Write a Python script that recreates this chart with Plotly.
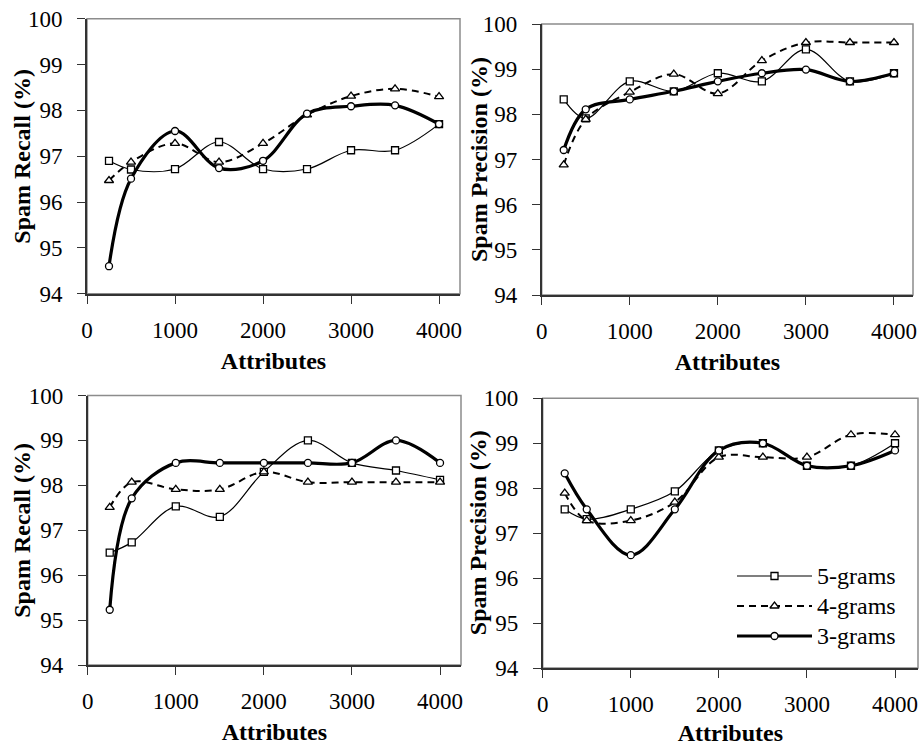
import plotly.graph_objects as go

# ---------------- data ----------------
attributes = [250, 500, 1000, 1500, 2000, 2500, 3000, 3500, 4000]

# top-left: Spam Recall
recall_a_5 = [96.90, 96.71, 96.72, 97.31, 96.72, 96.72, 97.13, 97.13, 97.70]
recall_a_4 = [96.47, 96.87, 97.28, 96.87, 97.28, 97.90, 98.31, 98.47, 98.30]
recall_a_3 = [94.60, 96.51, 97.55, 96.74, 96.90, 97.93, 98.09, 98.11, 97.70]

# top-right: Spam Precision
prec_a_5 = [98.33, 97.91, 98.73, 98.51, 98.91, 98.73, 99.44, 98.73, 98.91]
prec_a_4 = [96.88, 97.89, 98.49, 98.89, 98.46, 99.19, 99.59, 99.59, 99.59]
prec_a_3 = [97.21, 98.11, 98.33, 98.51, 98.73, 98.91, 98.99, 98.73, 98.91]

# bottom-left: Spam Recall
recall_b_5 = [96.50, 96.73, 97.53, 97.30, 98.30, 99.00, 98.50, 98.33, 98.12]
recall_b_4 = [97.51, 98.07, 97.91, 97.91, 98.30, 98.07, 98.07, 98.07, 98.07]
recall_b_3 = [95.23, 97.71, 98.50, 98.50, 98.50, 98.50, 98.50, 99.00, 98.50]

# bottom-right: Spam Precision
prec_b_5 = [97.53, 97.31, 97.53, 97.93, 98.84, 99.00, 98.50, 98.50, 99.00]
prec_b_4 = [97.89, 97.28, 97.28, 97.69, 98.69, 98.69, 98.69, 99.19, 99.19]
prec_b_3 = [98.33, 97.53, 96.51, 97.53, 98.84, 99.00, 98.50, 98.50, 98.84]

series_names = ["5-grams", "4-grams", "3-grams"]
y_titles = ["Spam Recall (%)", "Spam Precision (%)", "Spam Recall (%)", "Spam Precision (%)"]
x_title = "Attributes"
x_ticks = [0, 1000, 2000, 3000, 4000]
y_ticks = [94, 95, 96, 97, 98, 99, 100]

panels = [
    (recall_a_5, recall_a_4, recall_a_3),
    (prec_a_5, prec_a_4, prec_a_3),
    (recall_b_5, recall_b_4, recall_b_3),
    (prec_b_5, prec_b_4, prec_b_3),
]

# ---------------- layout / style ----------------
W, H = 921, 746
# plot-area pixel boxes: left, right, top, bottom
boxes = [
    (87.0, 460.0, 18.7, 293.7),
    (541.7, 913.0, 24.0, 295.0),
    (87.7, 461.0, 395.5, 665.0),
    (542.7, 918.0, 398.3, 668.0),
]
x_max = [4238, 4216, 4238, 4261]
# horizontal pixel position of each rotated y-axis title centre
y_title_px = [22.5, 478.5, 22.5, 478.0]

FONT = "Liberation Serif"
TICK_SIZE = 23
TITLE_SIZE = 24
styles = [
    dict(line=dict(color="black", width=1.2, shape="spline", smoothing=1.0),
         symbol="square", size=7),
    dict(line=dict(color="black", width=2.0, shape="spline", smoothing=1.0, dash="7px,5px"),
         symbol="triangle-up", size=8),
    dict(line=dict(color="black", width=3.2, shape="spline", smoothing=1.0),
         symbol="circle", size=7),
]

fig = go.Figure()
shapes = []
annotations = []
for i, (series, box, xm) in enumerate(zip(panels, boxes, x_max)):
    n = i + 1
    xa = "x" if n == 1 else f"x{n}"
    ya = "y" if n == 1 else f"y{n}"
    for j, ys in enumerate(series):
        st = styles[j]
        fig.add_trace(go.Scatter(
            x=attributes, y=ys, mode="lines+markers", name=series_names[j],
            line=st["line"],
            marker=dict(symbol=st["symbol"], size=st["size"],
                        color="white", line=dict(color="black", width=1.3)),
            xaxis=xa, yaxis=ya, showlegend=False,
            cliponaxis=False,
        ))
    l, r, t, b = box
    xkey = "xaxis" if n == 1 else f"xaxis{n}"
    ykey = "yaxis" if n == 1 else f"yaxis{n}"
    fig.layout[xkey] = dict(
        domain=[l / W, r / W], range=[0, xm], anchor=ya, automargin=False,
        tickvals=x_ticks, ticks="outside", ticklen=8, tickwidth=1.3, tickcolor="#333",
        showline=True, linecolor="#333", linewidth=1.6, showgrid=False, zeroline=False,
        ticklabelstandoff=7,
        tickfont=dict(family=FONT, size=TICK_SIZE, color="black"),
        title=dict(text="<b>" + x_title + "</b>", standoff=10,
                   font=dict(family=FONT, size=TITLE_SIZE, color="black")),
    )
    fig.layout[ykey] = dict(
        domain=[1 - b / H, 1 - t / H], range=[94, 100], anchor=xa, automargin=False,
        tickvals=y_ticks, ticks="outside", ticklen=8, tickwidth=1.3, tickcolor="#333",
        showline=True, linecolor="#333", linewidth=1.6, showgrid=False, zeroline=False,
        ticklabelstandoff=10,
        tickfont=dict(family=FONT, size=TICK_SIZE, color="black"),
    )
    annotations.append(dict(
        text="<b>" + y_titles[i] + "</b>", textangle=-90, showarrow=False,
        xref="paper", yref=f"{ya} domain", x=y_title_px[i] / W, y=0.5,
        xanchor="center", yanchor="middle",
        font=dict(family=FONT, size=TITLE_SIZE, color="black"),
    ))
    shapes.append(dict(type="rect", xref=f"{xa} domain", yref=f"{ya} domain",
                       x0=0, x1=1, y0=0, y1=1, layer="below",
                       line=dict(color="#8c8c8c", width=1.5)))

# ---------------- legend (drawn as long key lines like the original) ----------------
legend_rows = [2.5, 1.5, 0.5]
key_x = [0, 1]
key_mid = [0.5]
for j, name in enumerate(series_names):
    st = styles[j]
    fig.add_trace(go.Scatter(
        x=key_x, y=[legend_rows[j]] * 2, mode="lines", name=name,
        line=dict(color="black", width=st["line"]["width"], dash=st["line"].get("dash", "solid")),
        xaxis="x5", yaxis="y5", showlegend=False, hoverinfo="skip", cliponaxis=False,
    ))
    fig.add_trace(go.Scatter(
        x=key_mid, y=[legend_rows[j]], mode="markers", name=name,
        marker=dict(symbol=st["symbol"], size=st["size"], color="white",
                    line=dict(color="black", width=1.3)),
        xaxis="x5", yaxis="y5", showlegend=False, hoverinfo="skip", cliponaxis=False,
    ))
fig.layout["xaxis5"] = dict(domain=[737 / W, 812 / W], range=[0, 1], anchor="y5",
                            visible=False, fixedrange=True, automargin=False)
fig.layout["yaxis5"] = dict(domain=[1 - 651 / H, 1 - 561 / H], range=[0, 3], anchor="x5",
                            side="right", showline=False, showgrid=False, zeroline=False,
                            ticks="", tickvals=legend_rows, ticktext=series_names,
                            ticklabelstandoff=4, automargin=False,
                            tickfont=dict(family=FONT, size=TITLE_SIZE, color="black"),
                            fixedrange=True)

fig.update_layout(
    width=W, height=H,
    margin=dict(l=0, r=0, t=0, b=0, autoexpand=False),
    paper_bgcolor="white", plot_bgcolor="rgba(0,0,0,0)",
    font=dict(family=FONT, color="black"),
    shapes=shapes,
    annotations=annotations,
    showlegend=False,
)

fig.write_html("out.html")
